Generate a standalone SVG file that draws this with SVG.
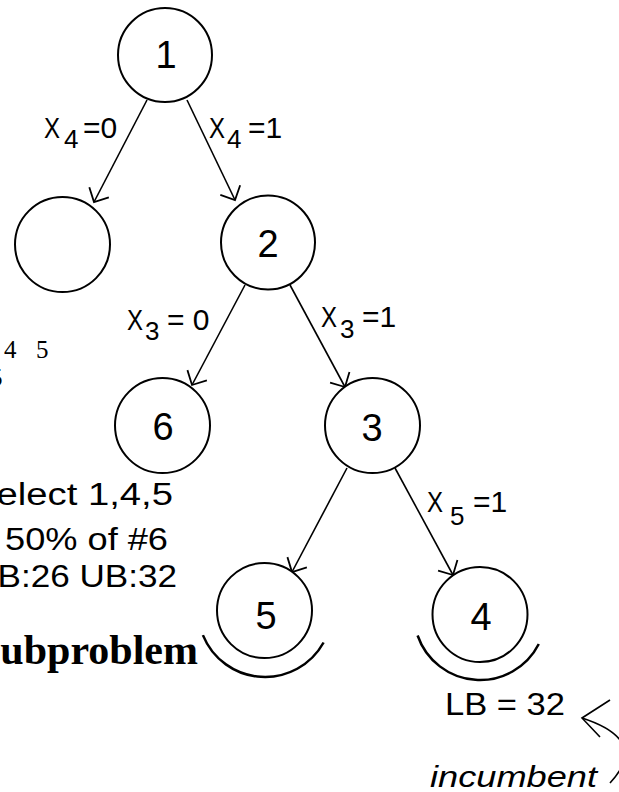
<svg xmlns="http://www.w3.org/2000/svg" width="619" height="792" viewBox="0 0 619 792">
<style>
.node{fill:#fff;stroke:#000;stroke-width:2}
.num{font-family:"Liberation Sans",Arial,sans-serif;font-size:38px;text-anchor:middle;fill:#000}
.edge{stroke:#000;stroke-width:1.6;fill:none}
.lab{font-family:"Liberation Sans",Arial,sans-serif;font-size:30px;fill:#000}
.sub{font-family:"Liberation Sans",Arial,sans-serif;font-size:26px;fill:#000}
.note{font-family:"Liberation Sans",Arial,sans-serif;font-size:31px;fill:#000}
.arc{stroke:#000;stroke-width:2.5;fill:none}
</style>
<defs>
<marker id="ah" markerUnits="userSpaceOnUse" markerWidth="30" markerHeight="30" refX="0" refY="0" viewBox="-15 -15 30 30" orient="auto" overflow="visible">
<path d="M-11,-11 L0,0 L-11,11" fill="none" stroke="#000" stroke-width="1.8"/>
</marker>
</defs>
<g id="connectors">
<line class="edge" x1="147" y1="100" x2="94" y2="202" marker-end="url(#ah)"/>
<line class="edge" x1="187" y1="100" x2="235" y2="200" marker-end="url(#ah)"/>
<line class="edge" x1="245" y1="285" x2="192" y2="385" marker-end="url(#ah)"/>
<line class="edge" x1="290" y1="285" x2="345" y2="387" marker-end="url(#ah)"/>
<line class="edge" x1="347" y1="468" x2="292" y2="572" marker-end="url(#ah)"/>
<line class="edge" x1="395" y1="468" x2="453" y2="575" marker-end="url(#ah)"/>
<path class="edge" d="M610 783 Q650 740 582 718"/>
<path class="edge" d="M610 700 L582 718 L600 737"/>
</g>
<g id="edge-labels">
<g id="lab-x4-0"><text class="lab" x="44" y="138" textLength="16" lengthAdjust="spacingAndGlyphs">X</text><text class="sub" x="64" y="148">4</text><text class="lab" x="83" y="138">=0</text></g>
<g id="lab-x4-1"><text class="lab" x="209" y="138" textLength="16" lengthAdjust="spacingAndGlyphs">X</text><text class="sub" x="227" y="148">4</text><text class="lab" x="248" y="138">=1</text></g>
<g id="lab-x3-0"><text class="lab" x="127" y="330" textLength="16" lengthAdjust="spacingAndGlyphs">X</text><text class="sub" x="145" y="340">3</text><text class="lab" x="167" y="330">= 0</text></g>
<g id="lab-x3-1"><text class="lab" x="321" y="327" textLength="16" lengthAdjust="spacingAndGlyphs">X</text><text class="sub" x="340" y="338">3</text><text class="lab" x="362" y="327">=1</text></g>
<g id="lab-x5-1"><text class="lab" x="427" y="512" textLength="16" lengthAdjust="spacingAndGlyphs">X</text><text class="sub" x="450" y="525">5</text><text class="lab" x="473" y="512">=1</text></g>
</g>
<g id="node1"><circle class="node" cx="165" cy="55" r="47"/><text class="num" x="166" y="68">1</text></g>
<g id="node-empty"><circle class="node" cx="62.5" cy="244.5" r="47.5"/></g>
<g id="node2"><circle class="node" cx="268" cy="242.5" r="47"/><text class="num" x="268" y="257">2</text></g>
<g id="node6"><circle class="node" cx="162.5" cy="425.5" r="47.5"/><text class="num" x="163" y="440">6</text></g>
<g id="node3"><circle class="node" cx="372.5" cy="425.5" r="47.5"/><text class="num" x="372" y="441">3</text></g>
<g id="node5"><circle class="node" cx="264.5" cy="610.5" r="47.5"/><text class="num" x="266" y="629">5</text><path class="arc" d="M202.9 635.1 A67 67 0 0 0 323.6 642.5"/></g>
<g id="node4"><circle class="node" cx="480" cy="614.5" r="47.5"/><text class="num" x="481" y="630">4</text><path class="arc" d="M417.6 635.5 A66 66 0 0 0 538.8 644"/></g>
<g id="annotations">
<text font-family="'Liberation Serif',serif" font-size="25"><tspan x="4" y="358">4</tspan><tspan x="36" y="358">5</tspan></text>
<text font-family="'Liberation Serif',serif" font-size="25" x="-10" y="386">5</text>
<text class="note" x="-29" y="505" textLength="202" lengthAdjust="spacingAndGlyphs">Select 1,4,5</text>
<text class="note" x="5" y="550" textLength="163" lengthAdjust="spacingAndGlyphs">50% of #6</text>
<text class="note" x="-22" y="587" textLength="199" lengthAdjust="spacingAndGlyphs">LB:26  UB:32</text>
<text x="198" y="664" text-anchor="end" font-family="'Liberation Serif',serif" font-size="42" font-weight="bold">Subproblem</text>
<text class="note" x="445" y="715" textLength="120" lengthAdjust="spacingAndGlyphs">LB = 32</text>
<text x="430" y="787" font-family="'Liberation Sans',Arial,sans-serif" font-size="29" font-style="italic" textLength="167" lengthAdjust="spacingAndGlyphs">incumbent</text>
</g>
</svg>
